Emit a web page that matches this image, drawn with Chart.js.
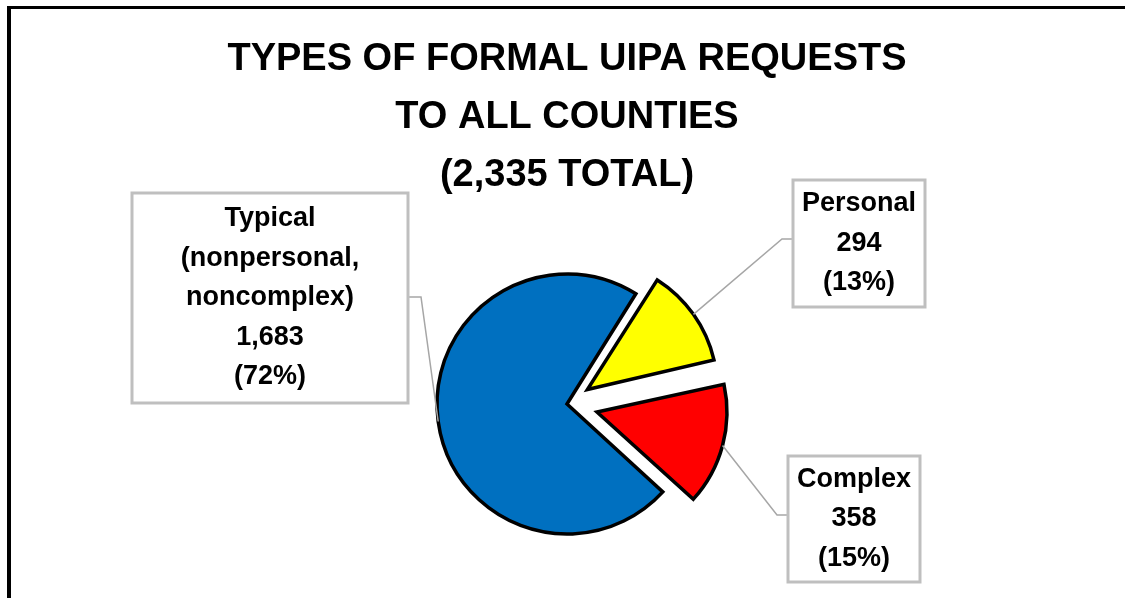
<!DOCTYPE html>
<html>
<head>
<meta charset="utf-8">
<script src="https://cdn.jsdelivr.net/npm/chart.js"></script>
<style>
  html, body { margin: 0; padding: 0; background: #fff; }
  #wrap { width: 1125px; height: 598px; position: relative; }
</style>
</head>
<body>
<div id="wrap"><canvas id="pieChart"></canvas></div>
<script>
// data
const categories = ['Personal', 'Complex', 'Typical'];
const categoryLines = [['Personal'], ['Complex'], ['Typical', '(nonpersonal,', 'noncomplex)']];
const requestCounts = [294, 358, 1683];
const sliceColors = ['#FFFF00', '#FF0000', '#0070C0'];
const explodePx = [25, 31, 0];

const totalRequests = requestCounts.reduce((a, b) => a + b, 0);
const titleLines = [
    'TYPES OF FORMAL UIPA REQUESTS',
    'TO ALL COUNTIES',
    '(' + totalRequests.toLocaleString('en-US') + ' TOTAL)'
];

const PIE_RADIUS = 130;

// label boxes (same order as categories)
const labelBoxes = [
    { x: 793, y: 180, w: 132, h: 127, side: 'left', ly: 239 },
    { x: 788, y: 456, w: 132, h: 126, side: 'left', ly: 515 },
    { x: 132, y: 193, w: 276, h: 210, side: 'right', ly: 297 }
];

const FONT = "'Liberation Sans', Arial, sans-serif";
Chart.defaults.font.family = FONT;

// white background + black frame on left and top
const framePlugin = {
    id: 'frame',
    beforeDraw(chart) {
        const ctx = chart.ctx;
        ctx.save();
        ctx.fillStyle = '#fff';
        ctx.fillRect(0, 0, chart.width, chart.height);
        ctx.fillStyle = '#000';
        ctx.fillRect(7, 6, 4, chart.height - 6);
        ctx.fillRect(7, 6, chart.width - 7, 3);
        ctx.restore();
    }
};

// exploded arcs get drawn a bit larger by the library, keep them at the pie radius
const keepRadiusPlugin = {
    id: 'keepRadius',
    beforeDatasetsDraw(chart) {
        chart.getDatasetMeta(0).data.forEach((arc, i) => {
            const shift = explodePx[i];
            const fix = 1 - Math.sin(Math.min(Math.PI, arc.circumference || 0));
            arc.outerRadius = PIE_RADIUS - shift * fix;
        });
    }
};

// data label boxes with leader lines
const calloutPlugin = {
    id: 'callouts',
    afterDatasetsDraw(chart) {
        const ctx = chart.ctx;
        const meta = chart.getDatasetMeta(0);
        ctx.save();
        meta.data.forEach((arc, i) => {
            const p = arc.getProps(['x', 'y', 'startAngle', 'endAngle'], true);
            const mid = (p.startAngle + p.endAngle) / 2;
            const reach = PIE_RADIUS + explodePx[i];
            const ex = p.x + Math.cos(mid) * reach;
            const ey = p.y + Math.sin(mid) * reach;
            const box = labelBoxes[i];

            // leader line
            const sx = box.side === 'left' ? box.x : box.x + box.w;
            const kx = box.side === 'left' ? sx - 11 : sx + 13;
            ctx.strokeStyle = '#A6A6A6';
            ctx.lineWidth = 1.5;
            ctx.beginPath();
            ctx.moveTo(sx, box.ly);
            ctx.lineTo(kx, box.ly);
            ctx.lineTo(ex, ey);
            ctx.stroke();

            // box
            ctx.fillStyle = '#fff';
            ctx.fillRect(box.x, box.y, box.w, box.h);
            ctx.strokeStyle = '#BFBFBF';
            ctx.lineWidth = 3;
            ctx.strokeRect(box.x, box.y, box.w, box.h);

            // text
            const pct = Math.round(requestCounts[i] / totalRequests * 100);
            const lines = categoryLines[i].concat([
                requestCounts[i].toLocaleString('en-US'),
                '(' + pct + '%)'
            ]);
            const lh = 39.5;
            const cx = box.x + box.w / 2;
            const top = box.y + box.h / 2 - (lines.length - 1) * lh / 2;
            ctx.fillStyle = '#000';
            ctx.font = 'bold 27px ' + FONT;
            ctx.textAlign = 'center';
            ctx.textBaseline = 'middle';
            lines.forEach((t, j) => ctx.fillText(t, cx, top + j * lh));
        });
        ctx.restore();
    }
};

new Chart(document.getElementById('pieChart'), {
    type: 'pie',
    data: {
        labels: categories,
        datasets: [{
            data: requestCounts,
            backgroundColor: sliceColors,
            borderColor: '#000',
            borderWidth: 3.5,
            borderJoinStyle: 'miter',
            offset: explodePx.map(v => v * 4),
            radius: PIE_RADIUS
        }]
    },
    options: {
        responsive: true,
        maintainAspectRatio: false,
        animation: false,
        rotation: 32,
        layout: { padding: { left: 9, right: 0, top: 0, bottom: 0 } },
        plugins: {
            legend: { display: false },
            tooltip: { enabled: false },
            title: {
                display: true,
                text: titleLines,
                color: '#000',
                font: { size: 38, weight: 'bold', lineHeight: 58 / 38 },
                padding: { top: 31, bottom: 5 }
            }
        }
    },
    plugins: [framePlugin, keepRadiusPlugin, calloutPlugin]
});
</script>
</body>
</html>
